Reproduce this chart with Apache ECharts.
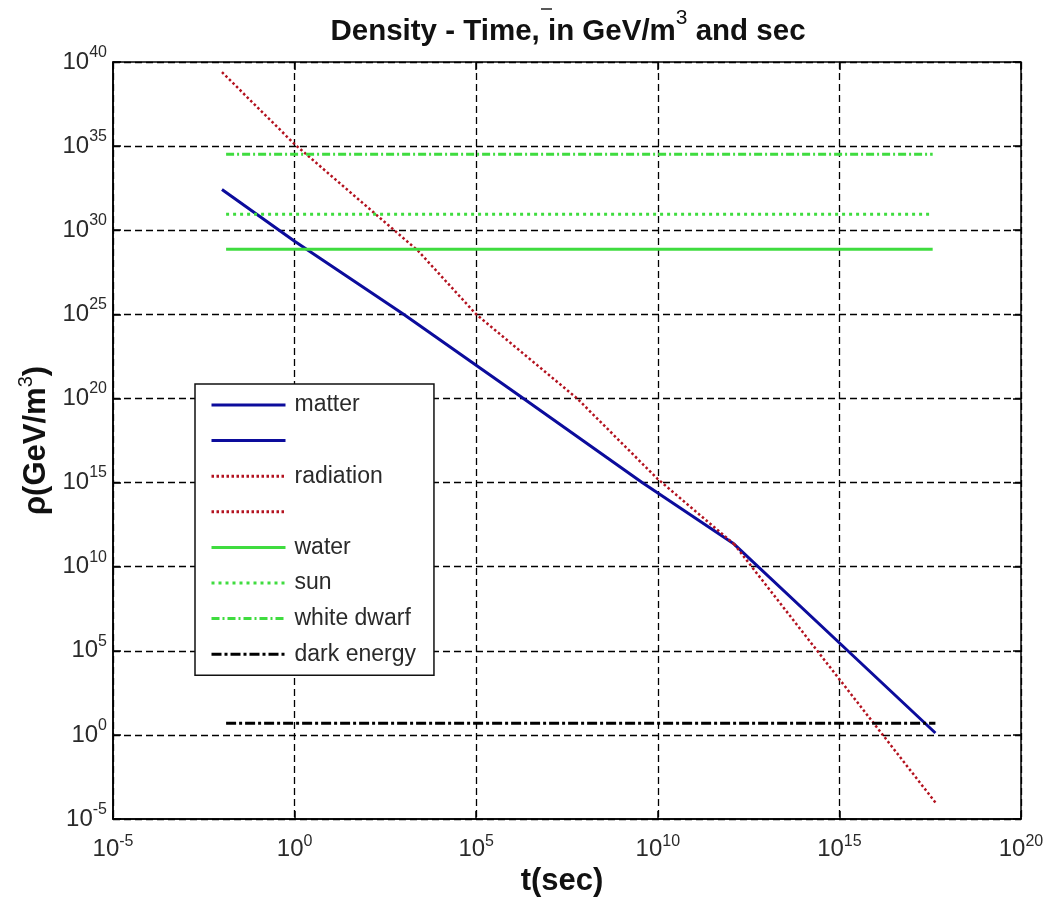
<!DOCTYPE html>
<html>
<head>
<meta charset="utf-8">
<style>
  html, body { margin: 0; padding: 0; background: #fff; }
  #chart { width: 1047px; height: 899px; }
</style>
<script src="https://cdn.jsdelivr.net/npm/echarts@6/dist/echarts.min.js"></script>
</head>
<body>
<div id="chart"></div>
<script>
// ---- data (t in sec, rho in GeV/m^3) ----
const tMatter1   = [1e-2, 1, 1e3, 2e6, 3.7e9, 1.26e12];
const rhoMatter1 = [2.6e32, 2.2e29, 1e25, 1e20, 1e15, 2.2e11];
const tMatter2   = [1.26e12, 1.7e15, 4.4e17];
const rhoMatter2 = [2.2e11, 1e5, 1.3];
const tRad1      = [1e-2, 1, 2.5e3, 1e5, 6e7, 1e10, 1.26e12];
const rhoRad1    = [2.5e39, 1.3e35, 6e28, 1e25, 1e20, 1.6e15, 2.2e11];
const tRad2      = [1.26e12, 2.45e14, 4.7e17];
const rhoRad2    = [2.2e11, 1e5, 8e-5];
const tLevels    = [1.3e-2, 3.7e17];
const tDark      = [1.3e-2, 4.4e17];
const rhoWater   = 7.5e28;
const rhoSun     = 9e30;
const rhoWhiteDwarf = 3.3e34;
const rhoDarkEnergy = 5;

const legendNames = ['matter', ' ', 'radiation', '  ', 'water', 'sun', 'white dwarf', 'dark energy'];
const titleMain = 'Density - Time, in GeV/m';
const titleSup = '3';
const titleEnd = ' and sec';
const xName = 't(sec)';
const yNameMain = 'ρ(GeV/m';
const yNameSup = '3';
const yNameEnd = ')';

function pairs(xs, ys) { return xs.map((x, i) => [x, ys[i]]); }
function level(xs, v) { return xs.map(x => [x, v]); }

const FONT = 'Liberation Sans, Arial, Helvetica, sans-serif';
const BLUE = '#0c0c9c';
const RED = '#b3121f';
const GREEN = '#3fdc3f';
const TICKC = '#2a2a2a';

function expLabel(v) {
  const e = Math.round(Math.log10(v));
  return '{b|10}{s|' + String(e) + '}';
}

const chart = echarts.init(document.getElementById('chart'), null, { renderer: 'canvas' });

const tickRichY = {
  b: { fontSize: 24, fontFamily: FONT, color: TICKC, lineHeight: 35 },
  s: { fontSize: 16, fontFamily: FONT, color: TICKC, lineHeight: 15, verticalAlign: 'top' }
};
const tickRichX = {
  b: { fontSize: 24, fontFamily: FONT, color: TICKC, lineHeight: 30 },
  s: { fontSize: 16, fontFamily: FONT, color: TICKC, lineHeight: 15, verticalAlign: 'top' }
};

function lineSeries(name, data, color, type, width, z) {
  return {
    name: name,
    type: 'line',
    data: data,
    symbol: 'none',
    showSymbol: false,
    animation: false,
    silent: true,
    z: z,
    lineStyle: { color: color, width: width, type: type, cap: 'butt' },
    itemStyle: { color: color }
  };
}

const option = {
  animation: false,
  backgroundColor: '#fff',
  title: {
    text: '{b|' + titleMain + '}{sup|' + titleSup + '}{b|' + titleEnd + '}',
    left: 568,
    top: 8,
    padding: 0,
    textAlign: 'center',
    textStyle: {
      fontFamily: FONT, fontSize: 29.5, fontWeight: 'bold', color: '#111',
      rich: {
        b: { fontFamily: FONT, fontSize: 29.5, fontWeight: 'bold', color: '#111', lineHeight: 48 },
        sup: { fontFamily: FONT, fontSize: 21, fontWeight: 'normal', color: '#111', lineHeight: 20, verticalAlign: 'top' }
      }
    }
  },
  grid: {
    left: 113, right: 26, top: 62, bottom: 80,
    outerBoundsMode: 'none',
    containLabel: false,
    show: true, borderColor: '#000', borderWidth: 1.5, backgroundColor: '#fff'
  },
  legend: {
    orient: 'vertical',
    left: 195,
    top: 384,
    data: legendNames,
    backgroundColor: '#fff',
    borderColor: '#111',
    borderWidth: 1.5,
    borderRadius: 0,
    padding: [8, 18, 8, 15],
    itemWidth: 74,
    itemHeight: 26,
    itemGap: 9.6,
    itemStyle: { opacity: 0 },
    lineStyle: { width: 3 },
    textStyle: { fontFamily: FONT, fontSize: 23, color: TICKC, lineHeight: 26, padding: [0, 0, 0, 4] },
    selectedMode: false,
    z: 10
  },
  xAxis: [{
    type: 'log',
    logBase: 10,
    min: 1e-5,
    max: 1e20,
    interval: 5,
    splitNumber: 5,
    name: xName,
    nameLocation: 'middle',
    nameGap: 36,
    nameTextStyle: { fontFamily: FONT, fontSize: 31, fontWeight: 'bold', color: '#111', padding: [0, 10, 0, 0] },
    axisLine: { show: true, onZero: false, lineStyle: { color: '#000', width: 1.5 } },
    axisTick: { show: true, inside: true, length: 8, lineStyle: { color: '#000', width: 1.5 } },
    minorTick: { show: false },
    axisLabel: { show: true, margin: 15, formatter: expLabel, rich: tickRichX, showMinLabel: true, showMaxLabel: true },
    splitLine: { show: true, lineStyle: { color: '#000', width: 1.3, type: [7, 4] } }
  }, {
    type: 'log',
    logBase: 10,
    min: 1e-5,
    max: 1e20,
    interval: 5,
    position: 'top',
    axisLine: { show: false },
    axisTick: { show: true, inside: true, length: 8, lineStyle: { color: '#000', width: 1.5 } },
    axisLabel: { show: false },
    splitLine: { show: false }
  }],
  yAxis: [{
    type: 'log',
    logBase: 10,
    min: 1e-5,
    max: 1e40,
    interval: 5,
    splitNumber: 9,
    name: '{b|' + yNameMain + '}{sup|' + yNameSup + '}{b|' + yNameEnd + '}',
    nameLocation: 'middle',
    nameRotate: 90,
    nameGap: 56,
    nameTextStyle: {
      fontFamily: FONT, fontSize: 31, fontWeight: 'bold', color: '#111',
      rich: {
        b: { fontFamily: FONT, fontSize: 31, fontWeight: 'bold', color: '#111', lineHeight: 40 },
        sup: { fontFamily: FONT, fontSize: 20, fontWeight: 'normal', color: '#111', lineHeight: 20, verticalAlign: 'top' }
      }
    },
    axisLine: { show: true, onZero: false, lineStyle: { color: '#000', width: 1.5 } },
    axisTick: { show: true, inside: true, length: 8, lineStyle: { color: '#000', width: 1.5 } },
    minorTick: { show: false },
    axisLabel: { show: true, margin: 6, formatter: expLabel, rich: tickRichY, showMinLabel: true, showMaxLabel: true },
    splitLine: { show: true, lineStyle: { color: '#000', width: 1.3, type: [7, 4] } }
  }, {
    type: 'log',
    logBase: 10,
    min: 1e-5,
    max: 1e40,
    interval: 5,
    position: 'right',
    axisLine: { show: false },
    axisTick: { show: true, inside: true, length: 8, lineStyle: { color: '#000', width: 1.5 } },
    axisLabel: { show: false },
    splitLine: { show: false }
  }],
  series: [
    lineSeries('matter', pairs(tMatter1, rhoMatter1), BLUE, 'solid', 3, 2),
    lineSeries(' ', pairs(tMatter2, rhoMatter2), BLUE, 'solid', 3, 2),
    lineSeries('radiation', pairs(tRad1, rhoRad1), RED, [2.5, 2.5], 2.5, 3),
    lineSeries('  ', pairs(tRad2, rhoRad2), RED, [2.5, 2.5], 2.5, 3),
    lineSeries('water', level(tLevels, rhoWater), GREEN, 'solid', 3, 4),
    lineSeries('sun', level(tLevels, rhoSun), GREEN, [3, 4], 3, 4),
    lineSeries('white dwarf', level(tLevels, rhoWhiteDwarf), GREEN, [8, 3, 2, 3], 3, 4),
    lineSeries('dark energy', level(tDark, rhoDarkEnergy), '#000', [10, 3, 3, 3], 3, 5)
  ],
  graphic: [{
    type: 'line',
    shape: { x1: 541, y1: 9, x2: 552, y2: 9 },
    style: { stroke: '#222', lineWidth: 1.5 },
    z: 20
  }]
};

chart.setOption(option);
</script>
</body>
</html>
